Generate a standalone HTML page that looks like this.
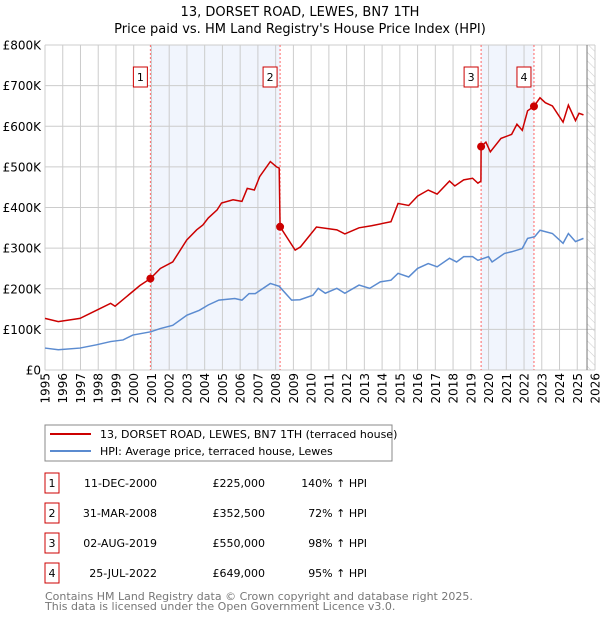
<!DOCTYPE html>
<html><head><meta charset="utf-8"><style>
body{margin:0;background:#fff}
svg{font-family:"DejaVu Sans","Liberation Sans",sans-serif}
</style></head><body>
<svg id="c" width="600" height="620" xmlns="http://www.w3.org/2000/svg">
<defs><pattern id="hatch" width="6" height="6" patternUnits="userSpaceOnUse" patternTransform="rotate(-45)"><line x1="0" y1="0" x2="0" y2="6" stroke="#ccc" stroke-width="1"/></pattern></defs>
<text x="300" y="16" text-anchor="middle" font-size="13">13, DORSET ROAD, LEWES, BN7 1TH</text>
<text x="300" y="33" text-anchor="middle" font-size="13">Price paid vs. HM Land Registry's House Price Index (HPI)</text>
<g id="plot"></g>
<rect x="45" y="425" width="347" height="36" fill="#fff" stroke="#888"/>
<line x1="50" y1="434" x2="91" y2="434" stroke="#cc0000" stroke-width="2"/>
<text x="100" y="438" font-size="11">13, DORSET ROAD, LEWES, BN7 1TH (terraced house)</text>
<line x1="50" y1="451" x2="91" y2="451" stroke="#5b8bd0" stroke-width="2"/>
<text x="100" y="455" font-size="11">HPI: Average price, terraced house, Lewes</text>
<g id="table" font-size="11"></g>
<text x="45" y="600" font-size="11" fill="#777">Contains HM Land Registry data © Crown copyright and database right 2025.</text>
<text x="45" y="610" font-size="11" fill="#777">This data is licensed under the Open Government Licence v3.0.</text>
</svg>
<script>
const hpiYears=[1995,1995.75,1996.97,1997.9,1998.7,1999.4,1999.95,2000.95,2001.5,2002.2,2003,2003.7,2004.2,2004.8,2005.7,2006.1,2006.5,2006.85,2007.7,2008.2,2008.9,2009.37,2010.1,2010.4,2010.8,2011.45,2011.9,2012.7,2013.3,2013.9,2014.5,2014.9,2015.5,2016,2016.6,2017.1,2017.8,2018.2,2018.6,2019.1,2019.4,2020,2020.2,2020.9,2021.3,2021.9,2022.2,2022.6,2022.9,2023.6,2024.2,2024.5,2024.9,2025.35];
const hpiValues=[54,50,54,62,70,74,86,94,102,110,135,147,160,172,176,172,188,188,213,206,172,173,184,201,189,201,189,209,201,217,221,238,229,250,262,254,275,266,279,279,270,279,266,287,291,299,324,328,344,336,312,336,316,324];
const propYears=[1995,1995.75,1996.97,1997.9,1998.7,1998.95,1999.8,2000.35,2000.94,2001.5,2002.2,2002.99,2003.55,2003.9,2004.2,2004.7,2004.95,2005.6,2006.1,2006.4,2006.8,2007.1,2007.7,2008.05,2008.2,2008.25,2009.1,2009.4,2010.3,2011.45,2011.9,2012.7,2013.4,2014.5,2014.9,2015.5,2016,2016.6,2017.1,2017.8,2018.1,2018.6,2019.1,2019.4,2019.57,2019.58,2019.85,2020.1,2020.7,2021.3,2021.6,2021.9,2022.2,2022.56,2022.9,2023.2,2023.6,2024.2,2024.5,2024.9,2025.1,2025.35];
const propValues=[127,119,127,147,164,157,188,208,225,250,266,320,345,357,374,394,411,419,415,447,443,476,513,500,497,352.5,295,303,352,345,335,350,355,365,410,405,428,443,433,465,453,468,472,460,465,550,561,537,570,580,605,590,638,649,670,658,650,610,652,614,632,628];
const saleYears=[2000.94,2008.25,2019.58,2022.56];
const saleValues=[225,352.5,550,649];
const saleLabels=['1','2','3','4'];
const saleDates=['11-DEC-2000','31-MAR-2008','02-AUG-2019','25-JUL-2022'];
const salePrices=['£225,000','£352,500','£550,000','£649,000'];
const saleHpi=['140% ↑ HPI','72% ↑ HPI','98% ↑ HPI','95% ↑ HPI'];
const yTicks=[0,100,200,300,400,500,600,700,800];
const yTickLabels=['£0','£100K','£200K','£300K','£400K','£500K','£600K','£700K','£800K'];
const xTicks=[1995,1996,1997,1998,1999,2000,2001,2002,2003,2004,2005,2006,2007,2008,2009,2010,2011,2012,2013,2014,2015,2016,2017,2018,2019,2020,2021,2022,2023,2024,2025,2026];

const L=45,R=595,T=45,B=370;
const X=v=>L+(v-1995)/(2026-1995)*(R-L);
const Y=v=>B-v/800*(B-T);
const NS='http://www.w3.org/2000/svg';
const g=document.getElementById('plot');
function mk(tag,a,p){const e=document.createElementNS(NS,tag);for(const k in a)e.setAttribute(k,a[k]);(p||g).appendChild(e);return e;}
let e;
e=mk('rect',{x:X(saleYears[0]),y:T,width:X(saleYears[1])-X(saleYears[0]),height:B-T,fill:'#eef2fc',opacity:0.8});


e=mk('rect',{x:X(saleYears[2]),y:T,width:X(saleYears[3])-X(saleYears[2]),height:B-T,fill:'#eef2fc',opacity:0.8});


e=mk('rect',{x:X(2025.55),y:T,width:R-X(2025.55),height:B-T,fill:'url(#hatch)'});


xTicks.forEach(t=>{
 e=mk('line',{x1:X(t),x2:X(t),y1:T,y2:B,stroke:'#ccc'});
 
 
 e=mk('text',{x:0,y:0,transform:`translate(${X(t)+4.5},${B+3}) rotate(-90)`,'text-anchor':'end','font-size':12});
 e.textContent=t;
 
 
});
yTicks.forEach((t,i)=>{
 e=mk('line',{x1:L,x2:R,y1:Y(t),y2:Y(t),stroke:'#ccc'});
 
 
 e=mk('text',{x:L-4,y:Y(t)+4.5,'text-anchor':'end','font-size':12});
 e.textContent=yTickLabels[i];
 
 
});
e=mk('line',{x1:X(2025.55),x2:X(2025.55),y1:T,y2:B,stroke:'#777'});


saleYears.forEach((s,i)=>{
 e=mk('line',{x1:X(s),x2:X(s),y1:T,y2:B,stroke:'#ff6666','stroke-dasharray':'2,2'});
 
 
 e=mk('rect',{x:X(s)-17,y:67,width:14,height:20,fill:'#fff',stroke:'#cc0000'});
 
 
 e=mk('text',{x:X(s)-10,y:81,'text-anchor':'middle','font-size':11});
 e.textContent=saleLabels[i];
 
 
});
e=mk('polyline',{points:hpiYears.map((y,i)=>X(y)+','+Y(hpiValues[i])).join(' '),fill:'none',stroke:'#5b8bd0','stroke-width':1.5});


e=mk('polyline',{points:propYears.map((y,i)=>X(y)+','+Y(propValues[i])).join(' '),fill:'none',stroke:'#cc0000','stroke-width':1.5});


saleYears.forEach((s,i)=>{
 e=mk('circle',{cx:X(s),cy:Y(saleValues[i]),r:4,fill:'#cc0000'});
 
 
});
const tb=document.getElementById('table');
const rowY=[483,513,543,573];
saleLabels.forEach((l,i)=>{
 const y=rowY[i];
 e=mk('rect',{x:45,y:y-10,width:14,height:20,fill:'#fff',stroke:'#cc0000'},tb);
 
 
 e=mk('text',{x:52,y:y+4,'text-anchor':'middle'},tb);e.textContent=l;
 
 
 e=mk('text',{x:157,y:y+4,'text-anchor':'end'},tb);e.textContent=saleDates[i];
 
 
 e=mk('text',{x:265,y:y+4,'text-anchor':'end'},tb);e.textContent=salePrices[i];
 
 
 e=mk('text',{x:367,y:y+4,'text-anchor':'end'},tb);e.textContent=saleHpi[i];
 
 
});
</script>
</body></html>
